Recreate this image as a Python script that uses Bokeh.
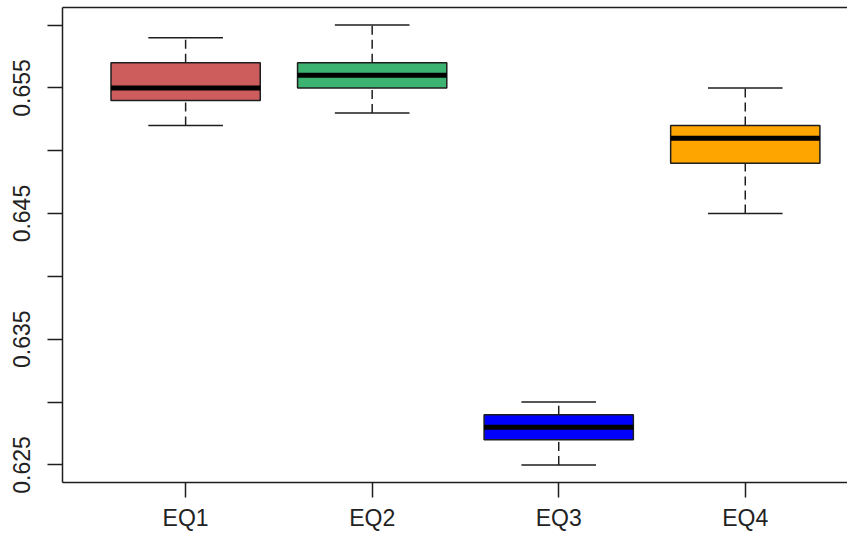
from bokeh.plotting import figure
from bokeh.models import ColumnDataSource, FixedTicker, LinearAxis, Range1d
from bokeh.embed import file_html
from bokeh.resources import INLINE

# ---- data ----
groups = ["EQ1", "EQ2", "EQ3", "EQ4"]
positions = [1, 2, 3, 4]
whisk_low = [0.652, 0.653, 0.625, 0.645]
q1 = [0.654, 0.655, 0.627, 0.649]
median = [0.655, 0.656, 0.628, 0.651]
q3 = [0.657, 0.657, 0.629, 0.652]
whisk_high = [0.659, 0.660, 0.630, 0.655]
colors = ["#CD5C5C", "#3CB371", "#0000FF", "#FFA500"]

y_ticks = [0.625, 0.630, 0.635, 0.640, 0.645, 0.650, 0.655, 0.660]
y_tick_labels = ["0.625", "", "0.635", "", "0.645", "", "0.655", ""]

box_w = 0.8
cap_w = 0.4

src = ColumnDataSource(dict(
    x=positions, lo=whisk_low, q1=q1, med=median, q3=q3, hi=whisk_high,
    color=colors,
    xl=[x - box_w / 2 for x in positions], xr=[x + box_w / 2 for x in positions],
    cl=[x - cap_w / 2 for x in positions], cr=[x + cap_w / 2 for x in positions],
))

p = figure(width=847, height=533, output_backend="svg", toolbar_location=None,
           x_range=Range1d(0.34, 4.548), y_range=Range1d(0.6236, 0.6614),
           x_axis_type=None, y_axis_type=None,
           min_border_left=62, min_border_right=0, min_border_top=7, min_border_bottom=49)
p.grid.visible = False
p.outline_line_color = None
p.background_fill_color = "white"
p.border_fill_color = "white"

LINE = "#1e1e1e"
FONT = "Liberation Sans"

# whiskers (dashed)
p.segment(x0="x", y0="q3", x1="x", y1="hi", source=src, line_color=LINE,
          line_width=1.5, line_dash="9 5")
p.segment(x0="x", y0="lo", x1="x", y1="q1", source=src, line_color=LINE,
          line_width=1.5, line_dash="9 5")
# caps
p.segment(x0="cl", y0="hi", x1="cr", y1="hi", source=src, line_color=LINE, line_width=1.5)
p.segment(x0="cl", y0="lo", x1="cr", y1="lo", source=src, line_color=LINE, line_width=1.5)
# boxes
p.vbar(x="x", width=box_w, bottom="q1", top="q3", source=src,
       fill_color="color", line_color=LINE, line_width=1.5)
# medians
p.segment(x0="xl", y0="med", x1="xr", y1="med", source=src, line_color="black", line_width=5)

# axes
yax = LinearAxis(ticker=FixedTicker(ticks=y_ticks))
yax.major_label_overrides = {t: l for t, l in zip(y_ticks, y_tick_labels)}
yax.major_label_orientation = "vertical"
yax.major_tick_out = 15
yax.major_tick_in = 0
yax.minor_tick_line_color = None
yax.major_label_standoff = 17
yax.major_label_text_font = FONT
yax.major_label_text_font_size = "23px"
yax.major_label_text_color = "#222222"
yax.axis_line_color = LINE
yax.axis_line_width = 1.5
yax.major_tick_line_color = LINE
yax.major_tick_line_width = 1.5
p.add_layout(yax, "left")

xax = LinearAxis(ticker=FixedTicker(ticks=positions))
xax.major_label_overrides = {x: g for x, g in zip(positions, groups)}
xax.major_tick_out = 15
xax.major_tick_in = 0
xax.minor_tick_line_color = None
xax.major_label_standoff = 7
xax.major_label_text_font = FONT
xax.major_label_text_font_size = "23px"
xax.major_label_text_color = "#222222"
xax.axis_line_color = LINE
xax.axis_line_width = 1.5
xax.major_tick_line_color = LINE
xax.major_tick_line_width = 1.5
p.add_layout(xax, "below")

top = LinearAxis(ticker=FixedTicker(ticks=[]))
top.major_tick_line_color = None
top.minor_tick_line_color = None
top.major_label_text_font_size = "0px"
top.axis_line_color = LINE
top.axis_line_width = 1.5
p.add_layout(top, "above")

open("out.html", "w").write(file_html(p, INLINE))
